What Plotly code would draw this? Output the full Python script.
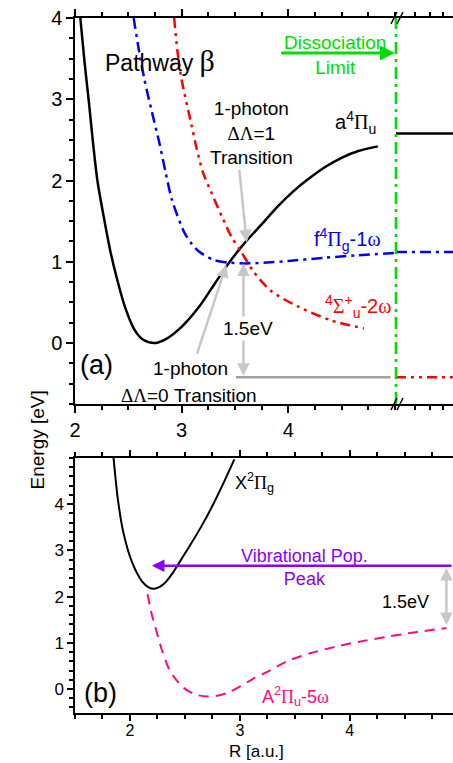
import plotly.graph_objects as go

# ---------------- data: panel (a) ----------------
R_a4Pu = [2.05, 2.09, 2.13, 2.17, 2.21, 2.27, 2.33, 2.39, 2.47, 2.56, 2.64, 2.74, 2.84, 3.0, 3.16, 3.31, 3.44, 3.59, 3.75, 3.9, 4.05, 4.2, 4.35, 4.5, 4.65, 4.84]
E_a4Pu = [4.0, 3.45, 2.97, 2.45, 2.0, 1.55, 1.14, 0.81, 0.44, 0.16, 0.04, 0.0, 0.04, 0.2, 0.44, 0.73, 0.98, 1.23, 1.46, 1.68, 1.87, 2.03, 2.17, 2.28, 2.36, 2.42]

R_f4Pg = [2.55, 2.6, 2.65, 2.72, 2.79, 2.85, 2.91, 3.03, 3.12, 3.19, 3.31, 3.44, 3.6, 3.8, 4.0, 4.34, 4.65, 5.01]
E_f4Pg = [4.0, 3.6, 3.25, 2.85, 2.47, 2.1, 1.76, 1.35, 1.18, 1.1, 1.02, 0.99, 0.98, 0.99, 1.01, 1.05, 1.08, 1.11]

R_4Su = [2.93, 2.96, 3.0, 3.09, 3.14, 3.2, 3.28, 3.38, 3.47, 3.56, 3.68, 3.84, 4.09, 4.4, 4.71]
E_4Su = [4.0, 3.6, 3.24, 2.7, 2.4, 2.1, 1.85, 1.55, 1.3, 1.12, 0.87, 0.64, 0.45, 0.28, 0.18]

# asymptotic (large-R) levels right of the axis break
ASYM_X = [0.0, 1.0]
ASYM_a4Pu = [2.58, 2.58]
ASYM_f4Pg = [1.12, 1.12]
ASYM_4Su = [-0.42, -0.42]

# 1-photon reference level
R_ref = [3.51, 4.96]
E_ref = [-0.42, -0.42]

# ---------------- data: panel (b) ----------------
R_X2Pg = [1.85, 1.89, 1.94, 2.02, 2.11, 2.17, 2.22, 2.27, 2.32, 2.38, 2.45, 2.55, 2.65, 2.75, 2.85, 2.95]
E_X2Pg = [5.02, 4.11, 3.39, 2.74, 2.33, 2.2, 2.17, 2.21, 2.3, 2.48, 2.74, 3.12, 3.52, 3.96, 4.45, 4.97]

R_A2Pu = [2.16, 2.2, 2.23, 2.29, 2.36, 2.42, 2.48, 2.55, 2.61, 2.7, 2.78, 2.88, 3.0, 3.12, 3.25, 3.43, 3.65, 3.88, 4.1, 4.34, 4.6, 4.88]
E_A2Pu = [2.05, 1.6, 1.35, 0.85, 0.41, 0.2, 0.04, -0.07, -0.13, -0.16, -0.15, -0.09, 0.05, 0.22, 0.37, 0.6, 0.78, 0.92, 1.03, 1.13, 1.23, 1.32]

VIB_PEAK_E = 2.67
TOP_YTICKS = [0, 1, 2, 3, 4]
TOP_XTICKS = [2, 3, 4]
BOT_YTICKS = [0, 1, 2, 3, 4]
BOT_XTICKS = [2, 3, 4]

FONT = "Liberation Sans, Arial, sans-serif"
SERIF = "Liberation Serif, Times New Roman, serif"
def sym(s):
    return f"<span style='font-family:{SERIF}'>{s}</span>"

BREAK_R = 5.01
GREEN = "#00dd00"
GREY = "#c8c8c8"

fig = go.Figure()

# panel (a) curves
fig.add_trace(go.Scatter(x=R_a4Pu, y=E_a4Pu, mode="lines", line=dict(color="black", width=2.5, shape="spline", smoothing=0.8), xaxis="x", yaxis="y"))
fig.add_trace(go.Scatter(x=R_f4Pg, y=E_f4Pg, mode="lines", line=dict(color="#0000ff", width=2.5, dash="11px,5px,3px,5px", shape="spline", smoothing=0.8), xaxis="x", yaxis="y"))
fig.add_trace(go.Scatter(x=R_4Su, y=E_4Su, mode="lines", line=dict(color="#ff0000", width=2.5, dash="10px,5px,3px,5px,3px,5px", shape="spline", smoothing=0.8), xaxis="x", yaxis="y"))
fig.add_trace(go.Scatter(x=R_ref, y=E_ref, mode="lines", line=dict(color="#a0a0a0", width=2.5), xaxis="x", yaxis="y"))
# asymptotic part
fig.add_trace(go.Scatter(x=ASYM_X, y=ASYM_a4Pu, mode="lines", line=dict(color="black", width=2.5), xaxis="x3", yaxis="y"))
fig.add_trace(go.Scatter(x=ASYM_X, y=ASYM_f4Pg, mode="lines", line=dict(color="#0000ff", width=2.5, dash="11px,5px,3px,5px"), xaxis="x3", yaxis="y"))
fig.add_trace(go.Scatter(x=ASYM_X, y=ASYM_4Su, mode="lines", line=dict(color="#ff0000", width=2.5, dash="10px,5px,3px,5px,3px,5px"), xaxis="x3", yaxis="y"))

# panel (b) curves
fig.add_trace(go.Scatter(x=R_X2Pg, y=E_X2Pg, mode="lines", line=dict(color="black", width=2, shape="spline", smoothing=0.8), xaxis="x2", yaxis="y2"))
fig.add_trace(go.Scatter(x=R_A2Pu, y=E_A2Pu, mode="lines", line=dict(color="#ff0a80", width=2, dash="10px,7px", shape="spline", smoothing=0.8), xaxis="x2", yaxis="y2"))

TOP_DOM = [0.4446, 1.0]
BOT_DOM = [0.0, 0.3669]
XSPLIT = 0.849

axis_common = dict(showline=True, linecolor="black", linewidth=1.5, ticks="outside", tickcolor="black",
                   tickwidth=1.5, showgrid=False, zeroline=False)

fig.update_layout(
    width=453, height=763, showlegend=False,
    margin=dict(l=75, r=0, t=18, b=50),
    paper_bgcolor="white", plot_bgcolor="white",
    font=dict(family=FONT, color="black"),
    xaxis=dict(domain=[0, XSPLIT], range=[2, BREAK_R], anchor="y", tickvals=TOP_XTICKS, ticklen=7,
               mirror="ticks", tickfont=dict(size=20),
               minor=dict(dtick=0.25, tick0=2, ticks="outside", ticklen=4, tickcolor="black", tickwidth=1.5),
               **axis_common),
    xaxis3=dict(domain=[XSPLIT, 1.0], range=[0, 1], anchor="y", tickvals=[0.33, 0.59, 0.83], ticklen=4,
                showticklabels=False, mirror="ticks", **axis_common),
    yaxis=dict(domain=TOP_DOM, range=[-0.75, 4], anchor="x", tickvals=TOP_YTICKS, ticklen=7,
               tickfont=dict(size=20),
               minor=dict(dtick=0.25, tick0=0, ticks="outside", ticklen=4, tickcolor="black", tickwidth=1.5),
               **axis_common),
    xaxis2=dict(domain=[0, 1.0], range=[1.5, 4.94], anchor="y2", tickvals=BOT_XTICKS, ticklen=6,
                mirror="ticks", tickfont=dict(size=16), ticklabelstandoff=-4,
                minor=dict(dtick=0.25, tick0=1.5, ticks="outside", ticklen=4, tickcolor="black", tickwidth=1.5),
                **axis_common),
    yaxis2=dict(domain=BOT_DOM, range=[-0.52, 5.0], anchor="x2", tickvals=BOT_YTICKS, ticklen=6,
                tickfont=dict(size=17),
                minor=dict(dtick=0.2, tick0=0, ticks="outside", ticklen=4, tickcolor="black", tickwidth=1.5),
                **axis_common),
)

# dissociation limit vertical line (drawn in paper units so it is not clipped)
fig.add_shape(type="line", xref="paper", yref="paper", x0=XSPLIT, x1=XSPLIT, y0=TOP_DOM[0], y1=TOP_DOM[1],
              line=dict(color=GREEN, width=2.5, dash="12px,5px,3px,5px"))

# axis break marks
def px2paper(px, py):
    return ((px - 75) / 378.0, (713 - py) / 695.0)
for (cx, cy) in [(394, 18), (400, 18), (394, 404), (400, 404)]:
    x0, y0 = px2paper(cx - 3, cy + 6)
    x1, y1 = px2paper(cx + 3, cy - 6)
    fig.add_shape(type="line", xref="paper", yref="paper", x0=x0, y0=y0, x1=x1, y1=y1,
                  line=dict(color="black", width=1.5))

ann = []
def text(x, y, s, size=19, color="black", xref="x", yref="y", xanchor="center", yanchor="middle", bg=None):
    d = dict(x=x, y=y, xref=xref, yref=yref, text=s, showarrow=False, xanchor=xanchor, yanchor=yanchor,
             font=dict(size=size, color=color, family=FONT))
    if bg:
        d["bgcolor"] = bg
    ann.append(d)

def arrow(x, y, ax, ay, color, width, xref="x", yref="y", both=False, size=1.0):
    ann.append(dict(x=x, y=y, ax=ax, ay=ay, xref=xref, yref=yref, axref=xref, ayref=yref, text="",
                    showarrow=True, arrowhead=2, arrowsize=size, arrowwidth=width, arrowcolor=color,
                    arrowside="end+start" if both else "end", startarrowhead=2, startarrowsize=size,
                    standoff=0, startstandoff=0))

# panel (a) arrows
arrow(3.42, 0.96, 3.14, -0.15, GREY, 2.5)
arrow(3.61, 1.24, 3.54, 2.15, GREY, 2.5)
arrow(3.58, 0.98, 3.58, -0.42, GREY, 2.5, both=True)
arrow(5.0, 3.57, 3.92, 3.57, GREEN, 3)

# panel (a) text
text(2.80, 3.48, "Pathway <span style='font-size:30px;font-family:" + SERIF + "'>β</span>", size=23)
text(3.66, 2.58, "1-photon<br>" + sym("ΔΛ") + "=1<br>Transition", size=19)
text(4.63, 2.72, "a<sup>4</sup>" + sym("Π") + "<sub>u</sub>", size=20)
text(4.56, 1.28, "f<sup>4</sup>" + sym("Π") + "<sub>g</sub>-1" + sym("ω"), size=20, color="#0000ff")
text(4.65, 0.45, "<sup>4</sup>" + sym("Σ") + "<sup>+</sup><sub>u</sub>-2" + sym("ω"), size=20, color="#ff0000")
text(2.03, -0.27, "(a)", size=27, xanchor="left")
text(3.62, 0.18, "1.5eV", size=19, bg="white")
text(3.08, -0.31, "1-photon", size=19)
text(3.07, -0.64, sym("ΔΛ") + "=0 Transition", size=19)
text(4.44, 3.54, "Dissociation<br>Limit", size=19, color=GREEN)

# panel (b) arrows
arrow(2.2, VIB_PEAK_E, 4.94, VIB_PEAK_E, "#8800ff", 2.5, xref="x2", yref="y2")
arrow(4.88, 2.62, 4.88, 1.35, GREY, 2.5, xref="x2", yref="y2", both=True)

# panel (b) text
text(2.94, 4.46, "X<sup>2</sup>" + sym("Π") + "<sub>g</sub>", size=18, xref="x2", yref="y2", xanchor="left")
text(3.59, 2.64, "Vibrational Pop.<br>Peak", size=18, color="#8800ff", xref="x2", yref="y2")
text(4.51, 1.88, "1.5eV", size=18, xref="x2", yref="y2")
text(3.51, -0.17, "A<sup>2</sup>" + sym("Π") + "<sub>u</sub>-5" + sym("ω"), size=18, color="#ff0a80", xref="x2", yref="y2")
text(1.56, -0.09, "(b)", size=27, xref="x2", yref="y2", xanchor="left")

# axis titles
ann.append(dict(x=-0.132, y=0.393, xref="paper", yref="paper", text="Energy [eV]", showarrow=False,
                textangle=-90, font=dict(size=19, family=FONT, color="black")))
ann.append(dict(x=0.481, y=-0.0715, xref="paper", yref="paper", text="R [a.u.]", showarrow=False,
                yanchor="bottom", font=dict(size=17, family=FONT, color="black")))

fig.update_layout(annotations=ann)
fig.write_html("out.html")
